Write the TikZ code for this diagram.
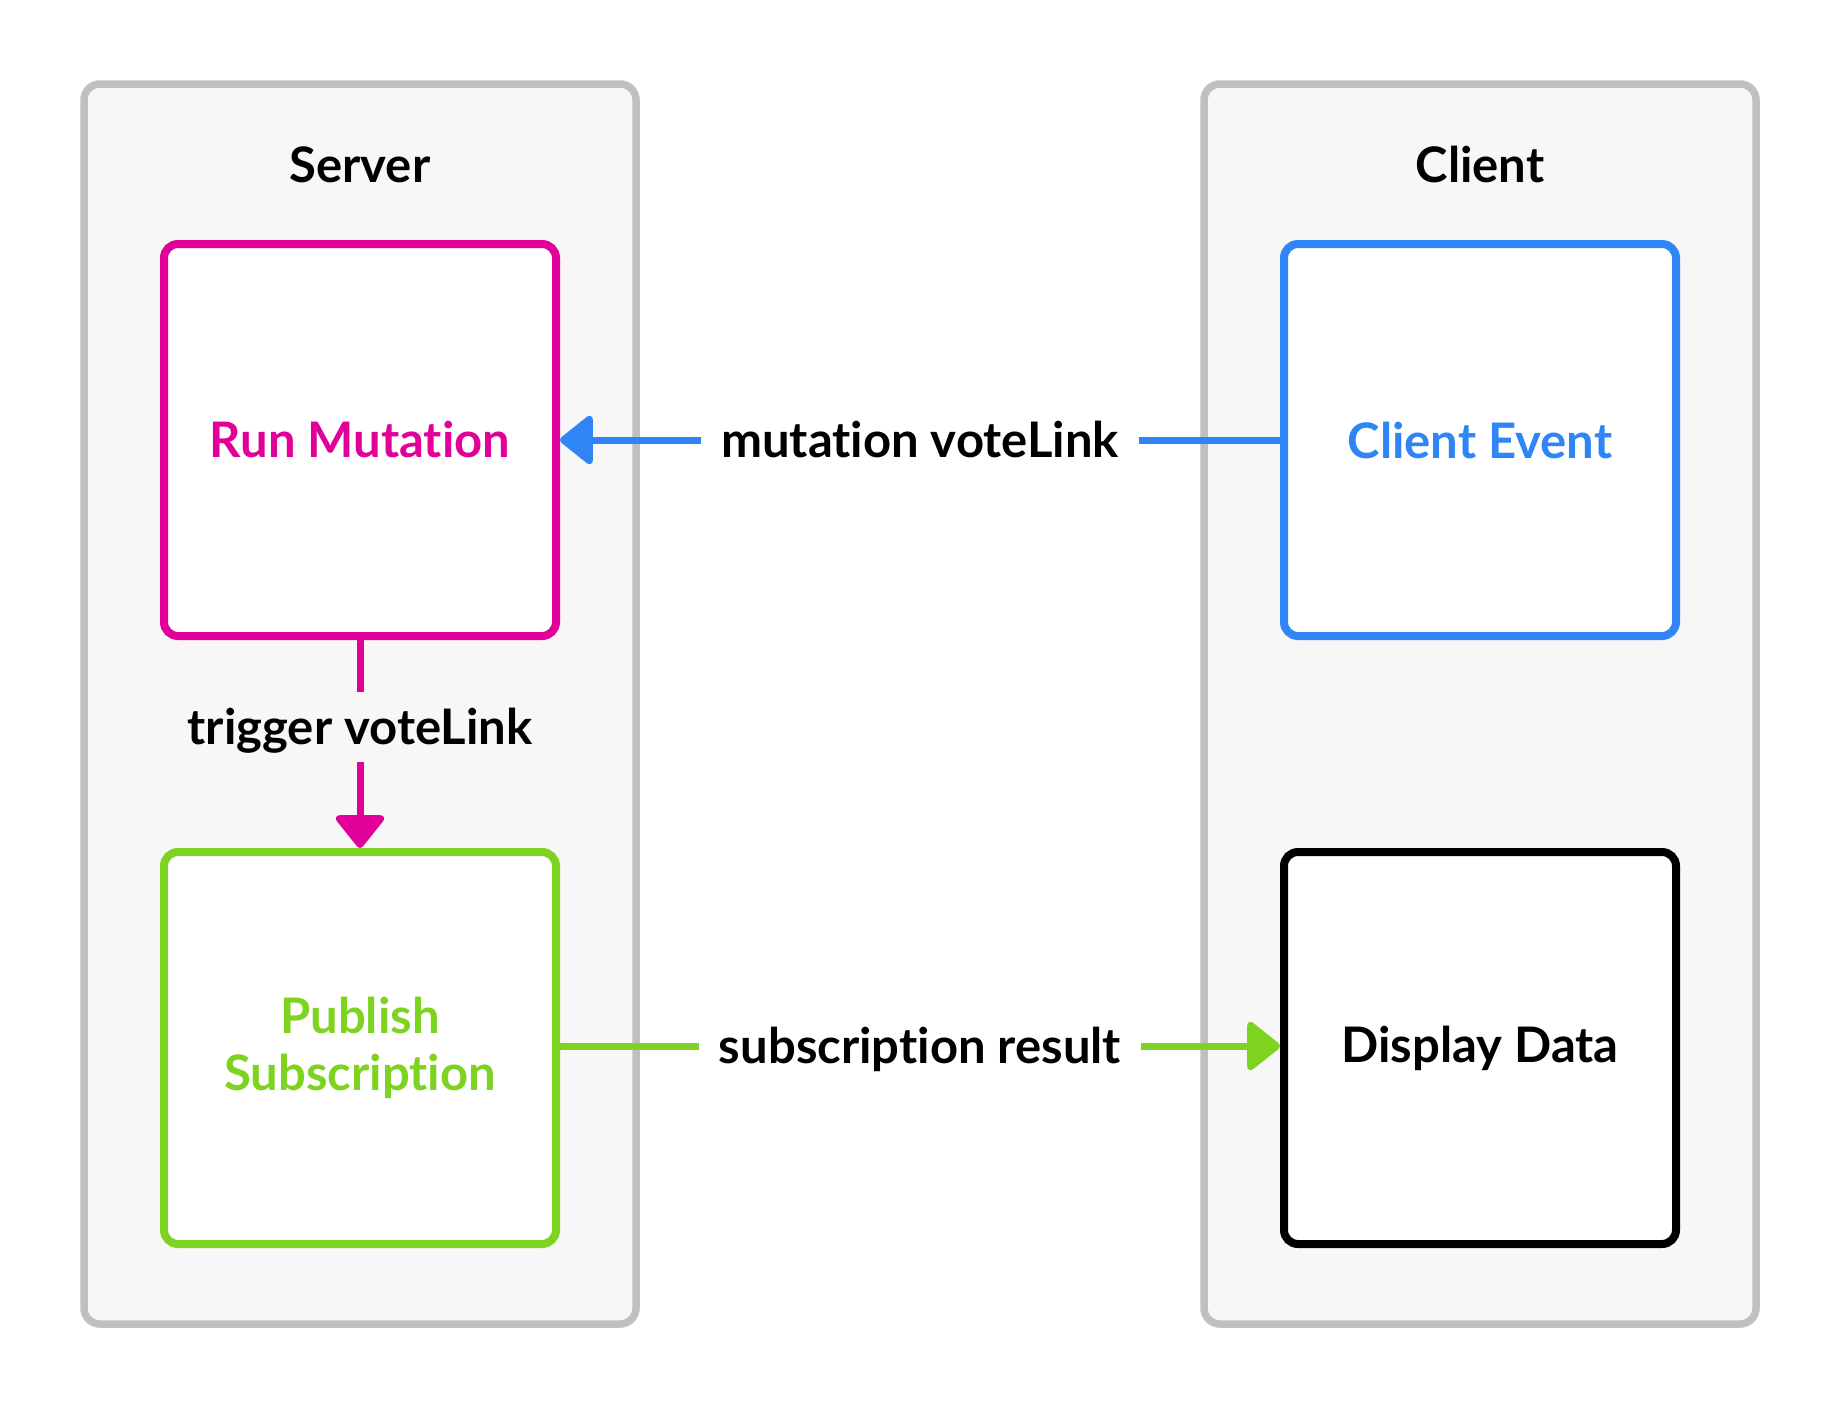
\documentclass[tikz,border=0pt]{standalone}
\usepackage{fontspec}
\setmainfont{Lato}[Ligatures={NoCommon}]
\usetikzlibrary{arrows.meta}
\definecolor{gqlpink}{HTML}{E10098}
\definecolor{cblue}{HTML}{2F85F6}
\definecolor{pgreen}{HTML}{7ED321}
\definecolor{pgray}{HTML}{C0C0C0}
\definecolor{pfill}{HTML}{F7F7F7}
\begin{document}
\begin{tikzpicture}[x=1pt,y=-1pt,
  bigfont/.style={font=\fontsize{49}{57}\selectfont\bfseries},
  panel/.style={draw=pgray, fill=pfill, line width=7.5pt, rounded corners=16pt,
    minimum width=552pt, minimum height=1240pt, inner sep=0pt},
  title/.style={bigfont, text=black, anchor=base, inner sep=0pt},
  stepbox/.style={draw=#1, fill=white, line width=8pt, rounded corners=14pt,
    minimum width=392pt, minimum height=392pt, inner sep=0pt, align=center, bigfont},
  lab/.style={bigfont, text=black, text height=35pt, text depth=0pt, inner xsep=20pt, inner ysep=0pt},
  vlab/.style={bigfont, text=black, text height=35pt, text depth=0pt, inner xsep=0pt, inner ysep=17pt},
  conn/.style={draw=#1, line width=7pt},
  tip/.style={-{Triangle[length=35pt,width=54pt,round]}}
]
\useasboundingbox (0,0) rectangle (1840,1408);
\fill[white] (0,0) rectangle (1840,1408);

\node[panel] (server) at (360,704) {};
\node[panel] (client) at (1480,704) {};
\node[title] (stitle) at (360,182) {Server};
\node[title] (ctitle) at (1480,182) {Client};

\node[stepbox=gqlpink, text=gqlpink] (rm) at (360,440) {Run Mutation};
\node[stepbox=pgreen, text=pgreen] (ps) at (360,1048) {Publish\\Subscription};
\node[stepbox=cblue, text=cblue] (ce) at (1480,440) {Client Event};
\node[stepbox=black, text=black] (dd) at (1480,1048) {Display Data};

\node[lab] (ml) at (920,440) {mutation voteLink};
\node[lab] (sl) at (920,1046) {subscription result};
\node[vlab] (tl) at (360,727) {trigger voteLink};

\draw[conn=cblue] (ce.west) -- (ml.east);
\draw[conn=cblue, tip] (ml.west) -- (rm.east);
\draw[conn=pgreen] (ps.east |- sl.west) -- (sl.west);
\draw[conn=pgreen, tip] (sl.east) -- (dd.west |- sl.east);
\draw[conn=gqlpink] (rm.south) -- (tl.north);
\draw[conn=gqlpink, tip] (tl.south) -- (ps.north);
\end{tikzpicture}
\end{document}
